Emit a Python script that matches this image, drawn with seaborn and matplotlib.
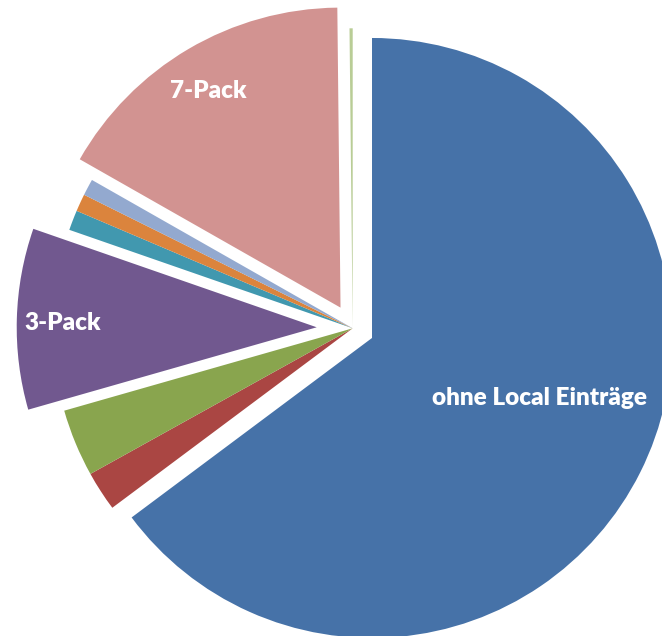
import matplotlib
matplotlib.use("Agg")
import matplotlib.pyplot as plt
import seaborn as sns

# Data (share of the whole in %)
categories = ["ohne Local Einträge", "Kategorie 2", "Kategorie 3", "3-Pack",
              "Kategorie 5", "Kategorie 6", "Kategorie 7", "7-Pack", "Kategorie 9"]
values = [64.8, 2.14, 3.64, 9.75, 1.08, 0.94, 0.89, 16.6, 0.17]
show_label = [True, False, False, True, False, False, False, True, False]
explode = [0.072, 0, 0, 0.12, 0, 0, 0, 0.08, 0]
colors = ["#4672A8", "#AA4643", "#89A54E", "#71588F", "#4198AF",
          "#DB843D", "#93A9CF", "#D29391", "#B9CD96"]

sns.set_theme(style="white")
plt.rcParams["font.family"] = ["Lato", "DejaVu Sans"]

W, H = 662, 636
fig = plt.figure(figsize=(W / 100, H / 100), dpi=100)
ax = fig.add_axes([0, 0, 1, 1])
palette = sns.color_palette(colors)

cx, cy, R = 352.7, 328.3, 300.0
wedges, _ = ax.pie(values, explode=explode, colors=palette, startangle=90,
                   counterclock=False, radius=1.0,
                   wedgeprops=dict(linewidth=0))
ax.set_xlim(-cx / R, (W - cx) / R)
ax.set_ylim((cy - H) / R, cy / R)
ax.set_aspect("auto")
ax.axis("off")

# data label positions (figure pixel coordinates)
label_pos = {"ohne Local Einträge": (540, 398), "3-Pack": (63, 323), "7-Pack": (208, 91)}
for cat, show in zip(categories, show_label):
    if show:
        x, y = label_pos[cat]
        fig.text(x / W, 1 - y / H, cat, color="white", fontsize=17.5,
                 fontweight="heavy", ha="center", va="center")

fig.savefig("out.png", dpi=100, facecolor="white")
